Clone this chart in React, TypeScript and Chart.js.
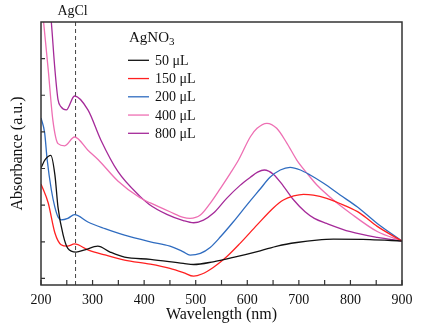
import React, { useEffect, useRef } from 'react';
import { Chart, registerables } from 'chart.js';

Chart.register(...registerables);

// ---- data (wavelength in nm, absorbance in a.u.) ----
const wl50 = [200, 208, 219, 227, 233, 243, 252, 268, 285, 310, 334, 362, 412, 476, 496, 534, 573, 625, 660, 696, 735, 767, 838, 900];
const abs50 = [1.51, 1.62, 1.68, 1.41, 0.97, 0.59, 0.41, 0.36, 0.39, 0.44, 0.36, 0.29, 0.26, 0.205, 0.19, 0.227, 0.287, 0.377, 0.445, 0.49, 0.523, 0.535, 0.53, 0.51];

const wl150 = [200, 214, 227, 239, 251, 265, 291, 324, 362, 412, 450, 476, 496, 512, 534, 560, 586, 619, 651, 670, 690, 709, 728, 754, 787, 819, 852, 900];
const abs150 = [1.29, 1.03, 0.62, 0.46, 0.44, 0.47, 0.39, 0.32, 0.25, 0.195, 0.137, 0.08, 0.03, 0.06, 0.15, 0.295, 0.478, 0.73, 0.965, 1.07, 1.125, 1.148, 1.138, 1.093, 1.0, 0.888, 0.71, 0.51];

const wl200 = [200, 207, 212, 220, 227, 233, 239, 252, 265, 291, 324, 362, 412, 450, 476, 489, 509, 528, 548, 573, 599, 625, 644, 664, 683, 703, 722, 748, 780, 813, 852, 900];
const abs200 = [2.19, 1.99, 1.62, 1.21, 0.97, 0.84, 0.80, 0.82, 0.87, 0.77, 0.68, 0.59, 0.50, 0.441, 0.363, 0.318, 0.342, 0.423, 0.568, 0.773, 1.0, 1.22, 1.38, 1.48, 1.516, 1.48, 1.411, 1.298, 1.138, 0.978, 0.75, 0.51];

const wl400 = [200, 205, 214, 223, 233, 246, 265, 291, 311, 349, 392, 412, 450, 476, 489, 509, 528, 548, 567, 583, 606, 619, 638, 657, 677, 696, 716, 735, 767, 800, 852, 900];
const abs400 = [3.87, 3.50, 2.85, 2.16, 1.84, 1.81, 1.93, 1.75, 1.62, 1.33, 1.10, 1.03, 0.91, 0.833, 0.82, 0.865, 1.025, 1.23, 1.434, 1.616, 1.934, 2.049, 2.117, 2.049, 1.844, 1.616, 1.434, 1.275, 1.07, 0.89, 0.64, 0.51];

const wl800 = [200, 212, 220, 227, 233, 239, 249, 265, 291, 316, 349, 392, 410, 444, 476, 496, 515, 534, 560, 586, 606, 620, 633, 651, 670, 690, 712, 730, 754, 800, 852, 900];
const abs800 = [5.0, 4.1, 3.50, 2.85, 2.44, 2.34, 2.30, 2.49, 2.30, 1.89, 1.46, 1.12, 1.01, 0.875, 0.79, 0.76, 0.796, 0.888, 1.093, 1.27, 1.38, 1.45, 1.48, 1.42, 1.26, 1.07, 0.91, 0.82, 0.75, 0.637, 0.56, 0.51];

const SERIES_LABELS = ['50 μL', '150 μL', '200 μL', '400 μL', '800 μL'];
const SERIES_WL = [wl50, wl150, wl200, wl400, wl800];
const SERIES_ABS = [abs50, abs150, abs200, abs400, abs800];
const SERIES_COLORS = ['#111111', '#ff2020', '#2f6cc0', '#ee6fb3', '#a52a99'];

const X_MIN = 200;
const X_MAX = 900;
const Y_MIN = -0.09;
const Y_MAX = 3.5;
const X_TICK_STEP = 100;
const X_MINOR_TICKS = [200, 250, 300, 350, 400, 450, 500, 550, 600, 650, 700, 750, 800, 850, 900];
const Y_TICKS = [0, 0.5, 1.0, 1.5, 2.0, 2.5, 3.0];
const AGCL_WL = 267;
const LEGEND_TITLE = 'AgNO';
const LEGEND_TITLE_SUB = '3';
const AGCL_LABEL = 'AgCl';

const FONT = "'Liberation Serif', 'Times New Roman', serif";

const framePlugin = {
  id: 'frame',
  beforeDatasetsDraw(chart: any) {
    const { ctx, chartArea, scales } = chart;
    const x = scales.x.getPixelForValue(AGCL_WL);
    ctx.save();
    ctx.strokeStyle = '#444';
    ctx.lineWidth = 1;
    ctx.setLineDash([4, 3]);
    ctx.beginPath();
    ctx.moveTo(x, chartArea.top);
    ctx.lineTo(x, chartArea.bottom);
    ctx.stroke();
    ctx.restore();
  },
  afterDatasetsDraw(chart: any) {
    const { ctx, chartArea, scales } = chart;
    const { left, right, top, bottom } = chartArea;
    ctx.save();
    // frame
    ctx.strokeStyle = '#333';
    ctx.lineWidth = 1.5;
    ctx.strokeRect(left, top, right - left, bottom - top);
    // inner ticks
    ctx.lineWidth = 1.2;
    ctx.beginPath();
    X_MINOR_TICKS.forEach((v) => {
      const px = scales.x.getPixelForValue(v);
      ctx.moveTo(px, bottom);
      ctx.lineTo(px, bottom - 5);
    });
    Y_TICKS.forEach((v) => {
      const py = scales.y.getPixelForValue(v);
      ctx.moveTo(left, py);
      ctx.lineTo(left + 4, py);
    });
    ctx.stroke();

    // AgCl label
    const xa = scales.x.getPixelForValue(AGCL_WL);
    ctx.fillStyle = '#111';
    ctx.font = `14px ${FONT}`;
    ctx.textAlign = 'center';
    ctx.textBaseline = 'middle';
    ctx.fillText(AGCL_LABEL, xa - 3, top - 11);

    // legend
    const lx = left + 87;
    ctx.textAlign = 'left';
    ctx.textBaseline = 'alphabetic';
    ctx.font = `15px ${FONT}`;
    ctx.fillText(LEGEND_TITLE, lx + 1, top + 20);
    const tw = ctx.measureText(LEGEND_TITLE).width;
    ctx.font = `11px ${FONT}`;
    ctx.fillText(LEGEND_TITLE_SUB, lx + 1 + tw, top + 23);

    ctx.font = `14px ${FONT}`;
    ctx.textBaseline = 'middle';
    SERIES_LABELS.forEach((lab, i) => {
      const y = top + 38.3 + i * 18.25;
      ctx.strokeStyle = SERIES_COLORS[i];
      ctx.lineWidth = 1.3;
      ctx.beginPath();
      ctx.moveTo(lx, y);
      ctx.lineTo(lx + 21, y);
      ctx.stroke();
      ctx.fillStyle = '#111';
      ctx.fillText(lab, lx + 27, y + 1);
    });
    ctx.restore();
  },
};

export default function App() {
  const ref = useRef<HTMLCanvasElement>(null);
  useEffect(() => {
    const canvas = ref.current;
    if (!canvas) return;
    const datasets = SERIES_LABELS.map((lab, i) => ({
      label: lab,
      data: SERIES_WL[i].map((w, j) => ({ x: w, y: SERIES_ABS[i][j] })),
      borderColor: SERIES_COLORS[i],
      backgroundColor: SERIES_COLORS[i],
      borderWidth: 1.3,
      pointRadius: 0,
      fill: false,
      cubicInterpolationMode: 'monotone' as const,
    }));
    const chart = new Chart(canvas, {
      type: 'line',
      data: { datasets },
      options: {
        responsive: false,
        animation: false,
        layout: { padding: { top: 22, right: 21, left: 0, bottom: 0 } },
        plugins: { legend: { display: false }, tooltip: { enabled: false } },
        scales: {
          x: {
            type: 'linear',
            min: X_MIN,
            max: X_MAX,
            grid: { display: false, drawTicks: false },
            border: { display: false },
            ticks: {
              stepSize: X_TICK_STEP,
              autoSkip: false,
              maxRotation: 0,
              padding: 7,
              color: '#111',
              font: { family: FONT, size: 14 },
            },
            title: {
              display: true,
              text: 'Wavelength (nm)',
              color: '#111',
              font: { family: FONT, size: 16 },
              padding: { top: 0, bottom: 7 },
            },
            afterFit: (s: any) => {
              s.height = 46;
            },
          },
          y: {
            type: 'linear',
            min: Y_MIN,
            max: Y_MAX,
            grid: { display: false, drawTicks: false },
            border: { display: false },
            ticks: { display: false },
            title: {
              display: true,
              text: 'Absorbance (a.u.)',
              color: '#111',
              font: { family: FONT, size: 16 },
              padding: { top: 8, bottom: 0 },
            },
            afterFit: (s: any) => {
              s.width = 41;
            },
          },
        },
      },
      plugins: [framePlugin],
    });
    return () => chart.destroy();
  }, []);
  return (
    <div style={{ position: 'fixed', left: 0, top: 0, width: 423, height: 331, background: '#fff' }}>
      <canvas ref={ref} width={423} height={331} style={{ display: 'block' }} />
    </div>
  );
}
